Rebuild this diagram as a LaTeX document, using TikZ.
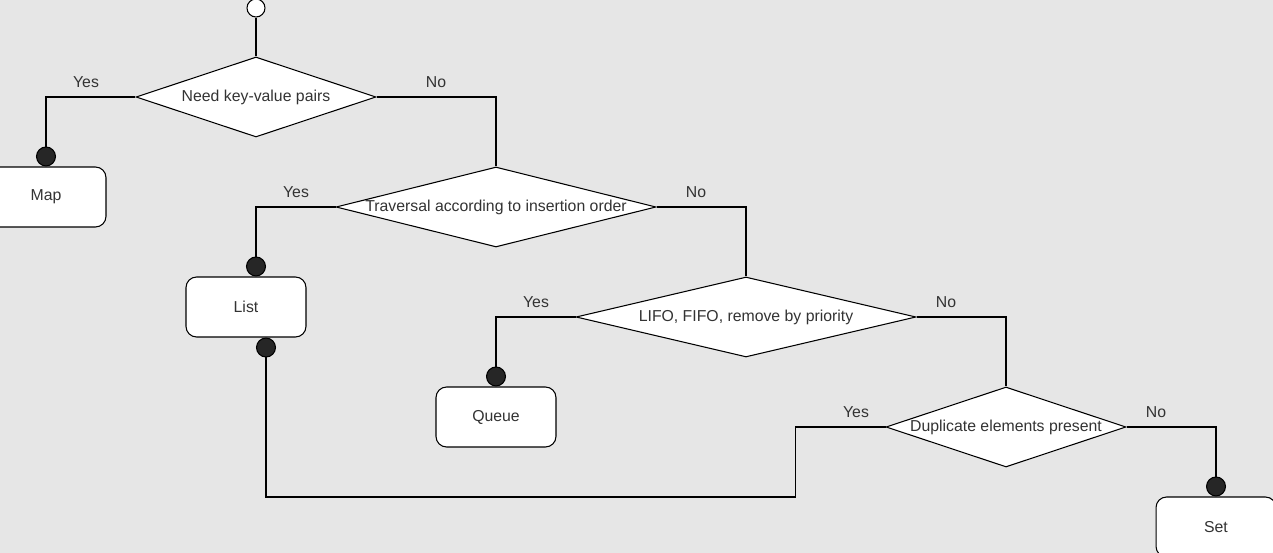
\documentclass[tikz,border=0pt]{standalone}
\usepackage{fontspec}
\setmainfont{Liberation Sans}
\usetikzlibrary{arrows.meta,shapes.geometric}
\definecolor{canvas}{HTML}{E6E6E6}
\definecolor{ink}{HTML}{333333}

\begin{document}
\begin{tikzpicture}[x=0.02cm, y=-0.02cm, line width=0.6pt,
	every node/.style={font=\fontsize{9}{11}\selectfont, text=ink},
	decision/.style={draw, diamond, fill=white, inner sep=0pt, minimum height=1.6cm},
	outcome/.style={draw, rounded corners=6pt, fill=white, minimum width=2.4cm, minimum height=1.2cm},
	dot/.style={-{Circle[length=0.4cm, fill=black!85]}}]
	\useasboundingbox (0,0) rectangle (1273,553);
	\clip (0,0) rectangle (1273,553);
	\fill[canvas] (0,0) rectangle (1273,553);
	\node[draw, circle, fill=white, minimum size=0.36cm, inner sep=0pt] (start) at (256,8) {};
	\node[decision, minimum width=4.8cm] (kv) at (256,97) {\makebox[0pt]{Need key-value pairs}};
	\node[decision, minimum width=6.4cm] (order) at (496,207) {\makebox[0pt]{Traversal according to insertion order}};
	\node[decision, minimum width=6.8cm] (lifo) at (746,317) {\makebox[0pt]{LIFO, FIFO, remove by priority}};
	\node[decision, minimum width=4.8cm] (dup) at (1006,427) {\makebox[0pt]{Duplicate elements present}};
	\node[outcome] (map) at (46,197) {Map};
	\node[outcome] (list) at (246,307) {List};
	\node[outcome] (queue) at (496,417) {Queue};
	\node[outcome] (set) at (1216,527) {Set};
	\draw (start) -- (kv);
	\draw[dot] (kv.west) -| (map.north);
	\draw (kv.east) -| (order.north);
	\draw[dot] (order.west) -| ([xshift=0.2cm]list.north);
	\draw (order.east) -| (lifo.north);
	\draw[dot] (lifo.west) -| (queue.north);
	\draw (lifo.east) -| (dup.north);
	\draw[dot] (dup.west) -- ++(-90,0) -- ++(0,70) -| ([xshift=0.4cm]list.south);
	\draw[dot] (dup.east) -| (set.north);
	\node (kvyes) at (86,82) {Yes};
	\node (kvno) at (436,82) {No};
	\node (orderyes) at (296,192) {Yes};
	\node (orderno) at (696,192) {No};
	\node (lifoyes) at (536,302) {Yes};
	\node (lifono) at (946,302) {No};
	\node (dupyes) at (856,412) {Yes};
	\node (dupno) at (1156,412) {No};
\end{tikzpicture}
\end{document}
